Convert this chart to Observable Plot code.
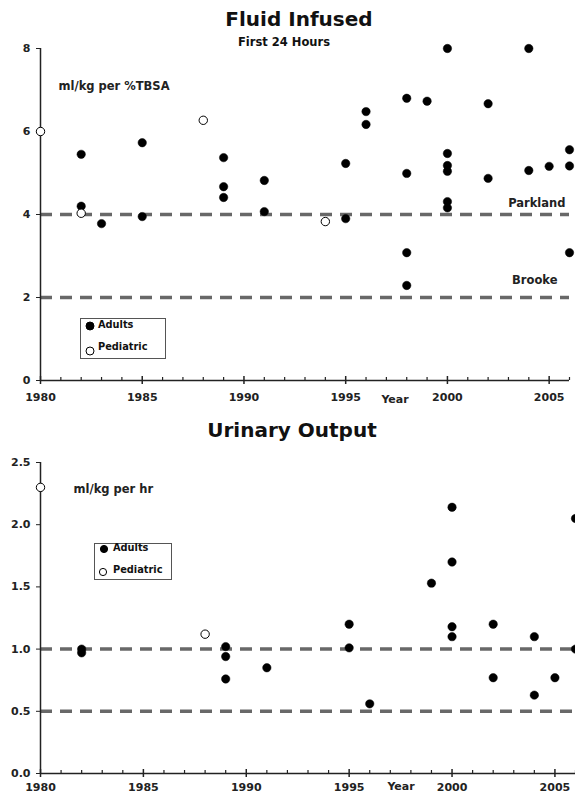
<!DOCTYPE html>
<html><head><meta charset="utf-8">
<script src="https://cdn.jsdelivr.net/npm/d3@7"></script>
<script src="https://cdn.jsdelivr.net/npm/@observablehq/plot@0.6"></script>
<style>
body{margin:0;background:#fff;font-family:"DejaVu Sans",Verdana,sans-serif;}
#wrap{position:relative;width:575px;height:795px;overflow:hidden;background:#fff;}
.abs{position:absolute;font-weight:bold;white-space:nowrap;color:#111;text-align:center;}
.panel{position:absolute;left:0;}
</style></head><body><div id="wrap"></div>
<script>
// ---------- Data: Fluid Infused (ml/kg per %TBSA, first 24 h) ----------
const fluidAdultYears  = [1982,1982,1983,1985,1985,1989,1989,1989,1991,1991,1995,1995,1996,1996,1998,1998,1998,1998,1999,2000,2000,2000,2000,2000,2000,2002,2002,2004,2004,2005,2006,2006,2006];
const fluidAdultValues = [5.45,4.2,3.78,5.73,3.95,5.37,4.67,4.41,4.82,4.07,5.23,3.9,6.48,6.17,6.8,4.99,3.08,2.29,6.73,8.0,5.47,5.18,5.04,4.31,4.16,6.67,4.87,8.0,5.06,5.16,5.56,5.17,3.08];
const fluidPedYears    = [1980,1982,1988,1994];
const fluidPedValues   = [6.0,4.03,6.27,3.83];
const fluidRefNames    = ["Parkland","Brooke"];
const fluidRefValues   = [4,2];
const fluidYTicks      = [0,2,4,6,8];

// ---------- Data: Urinary Output (ml/kg per hr) ----------
const urineAdultYears  = [1982,1982,1989,1989,1989,1991,1995,1995,1996,1999,2000,2000,2000,2000,2002,2002,2004,2004,2005,2006,2006];
const urineAdultValues = [1.0,0.97,1.02,0.94,0.76,0.85,1.2,1.01,0.56,1.53,2.14,1.70,1.18,1.10,1.2,0.77,1.1,0.63,0.77,2.05,1.0];
const urinePedYears    = [1980,1988];
const urinePedValues   = [2.3,1.12];
const urineRefValues   = [1.0,0.5];
const urineYTicks      = [0,0.5,1.0,1.5,2.0,2.5];

const majorYears = [1980,1985,1990,1995,2000,2005];
const minorYears = d3.range(1981,2007).filter(y => y % 5 !== 0);

const zipPts = (xs, ys) => xs.map((x,i) => ({year:x, value:ys[i]}));

const FONT = "DejaVu Sans, Verdana, sans-serif";
const AX = "#222";

function baseMarks(opt){
  return [
    Plot.ruleY(opt.refs, {stroke:"#686868", strokeWidth:3.5, strokeDasharray:"12,8"}),
    Plot.ruleY([0], {stroke:AX, strokeWidth:1.5}),
    Plot.ruleX([1980], {stroke:AX, strokeWidth:1.5}),
    Plot.ruleX(minorYears, {x:d=>d, y1:0, y2:0, insetTop:-3, insetBottom:0, stroke:AX, strokeWidth:1.2}),
    Plot.ruleX(majorYears, {x:d=>d, y1:0, y2:0, insetTop:-4, insetBottom:-4, stroke:AX, strokeWidth:1.5}),
    Plot.axisX({ticks:majorYears, tickSize:0, tickPadding:opt.xPad, tickFormat:d=>String(d), fontSize:11, fontWeight:"bold", label:null}),
    Plot.axisY({ticks:opt.yTicks, tickSize:4, tickPadding:6, tickFormat:opt.yFmt, fontSize:11, fontWeight:"bold", label:null, stroke:AX}),
    Plot.dot(zipPts(opt.adultX, opt.adultY), {x:"year", y:"value", r:4.2, fill:"black", stroke:"black", strokeWidth:0.5}),
    Plot.dot(zipPts(opt.pedX, opt.pedY), {x:"year", y:"value", r:4.2, fill:"white", stroke:"black", strokeWidth:1}),
    Plot.text([opt.unit], {frameAnchor:"top-left", dx:opt.unitDx, dy:opt.unitDy, textAnchor:"start", fontSize:11.5, fontWeight:"bold"}),
    Plot.text(["Year"], {frameAnchor:"bottom", dx:opt.yearDx, dy:opt.yearDy, fontSize:11, fontWeight:"bold"})
  ];
}

const fluid = Plot.plot({
  width:575, height:410, marginTop:48, marginBottom:30, marginLeft:40, marginRight:6,
  style:{background:"transparent", fontFamily:FONT, fontSize:"11px", color:AX, overflow:"visible"},
  x:{domain:[1980,2006]},
  y:{domain:[0,8]},
  marks:[
    ...baseMarks({refs:fluidRefValues, yTicks:fluidYTicks, yFmt:d=>String(d), xPad:13,
      adultX:fluidAdultYears, adultY:fluidAdultValues, pedX:fluidPedYears, pedY:fluidPedValues,
      unit:"ml/kg per %TBSA", unitDx:18, unitDy:33, yearDx:90, yearDy:22}),
    Plot.text([{v:fluidRefValues[0], t:fluidRefNames[0]}], {y:"v", text:"t", frameAnchor:"right", textAnchor:"end", dx:-4, dy:-11, fontSize:11.5, fontWeight:"bold"}),
    Plot.text([{v:fluidRefValues[1], t:fluidRefNames[1]}], {y:"v", text:"t", frameAnchor:"right", textAnchor:"end", dx:-12, dy:-17, fontSize:11.5, fontWeight:"bold"})
  ]
});

const urine = Plot.plot({
  width:575, height:350, marginTop:17, marginBottom:22, marginLeft:40, marginRight:0,
  style:{background:"transparent", fontFamily:FONT, fontSize:"11px", color:AX, overflow:"visible"},
  x:{domain:[1980,2006]},
  y:{domain:[0,2.5]},
  marks:[
    ...baseMarks({refs:urineRefValues, yTicks:urineYTicks, yFmt:d3.format(".1f"), xPad:10,
      adultX:urineAdultYears, adultY:urineAdultValues, pedX:urinePedYears, pedY:urinePedValues,
      unit:"ml/kg per hr", unitDx:33, unitDy:22, yearDx:93, yearDy:16})
  ]
});

const wrap = document.getElementById("wrap");
const p1 = document.createElement("div"); p1.className="panel"; p1.style.top="0px"; p1.appendChild(fluid); wrap.appendChild(p1);
const p2 = document.createElement("div"); p2.className="panel"; p2.style.top="445px"; p2.appendChild(urine); wrap.appendChild(p2);

function label(text, cx, cy, size){
  const d = document.createElement("div");
  d.className = "abs";
  d.textContent = text;
  d.style.fontSize = size + "px";
  d.style.left = (cx - 150) + "px";
  d.style.width = "300px";
  d.style.lineHeight = "1";
  d.style.top = (cy - size*0.55) + "px";
  wrap.appendChild(d);
}
label("Fluid Infused", 299, 20, 20);
label("First 24 Hours", 284, 43, 11.5);
label("Urinary Output", 292, 431, 20);

function legend(x, y, w, h, r, fs, rows){
  const ns = "http://www.w3.org/2000/svg";
  const svg = document.createElementNS(ns, "svg");
  svg.setAttribute("width", w); svg.setAttribute("height", h);
  svg.style.position = "absolute"; svg.style.left = x + "px"; svg.style.top = y + "px"; svg.style.overflow = "visible";
  let html = `<rect x="0.5" y="0.5" width="${w-1}" height="${h-1}" fill="white" stroke="#555" stroke-width="1"/>`;
  for (const rw of rows){
    html += `<circle cx="${rw.cx}" cy="${rw.cy}" r="${r}" fill="${rw.fill}" stroke="black" stroke-width="1"/>`;
    html += `<text x="${rw.tx}" y="${rw.ty}" dy="0.35em" font-family="${FONT}" font-weight="bold" font-size="${fs}" fill="#111">${rw.text}</text>`;
  }
  svg.innerHTML = html;
  wrap.appendChild(svg);
}
legend(80, 318, 86, 41, 4, 9.8, [
  {cx:10, cy:8, fill:"black", tx:18, ty:7, text:"Adults"},
  {cx:10, cy:33, fill:"white", tx:18, ty:29, text:"Pediatric"}
]);
legend(94, 543, 78, 37, 3.6, 9.8, [
  {cx:10, cy:6, fill:"black", tx:19, ty:5, text:"Adults"},
  {cx:9, cy:29, fill:"white", tx:19, ty:27, text:"Pediatric"}
]);
</script>
</body></html>
